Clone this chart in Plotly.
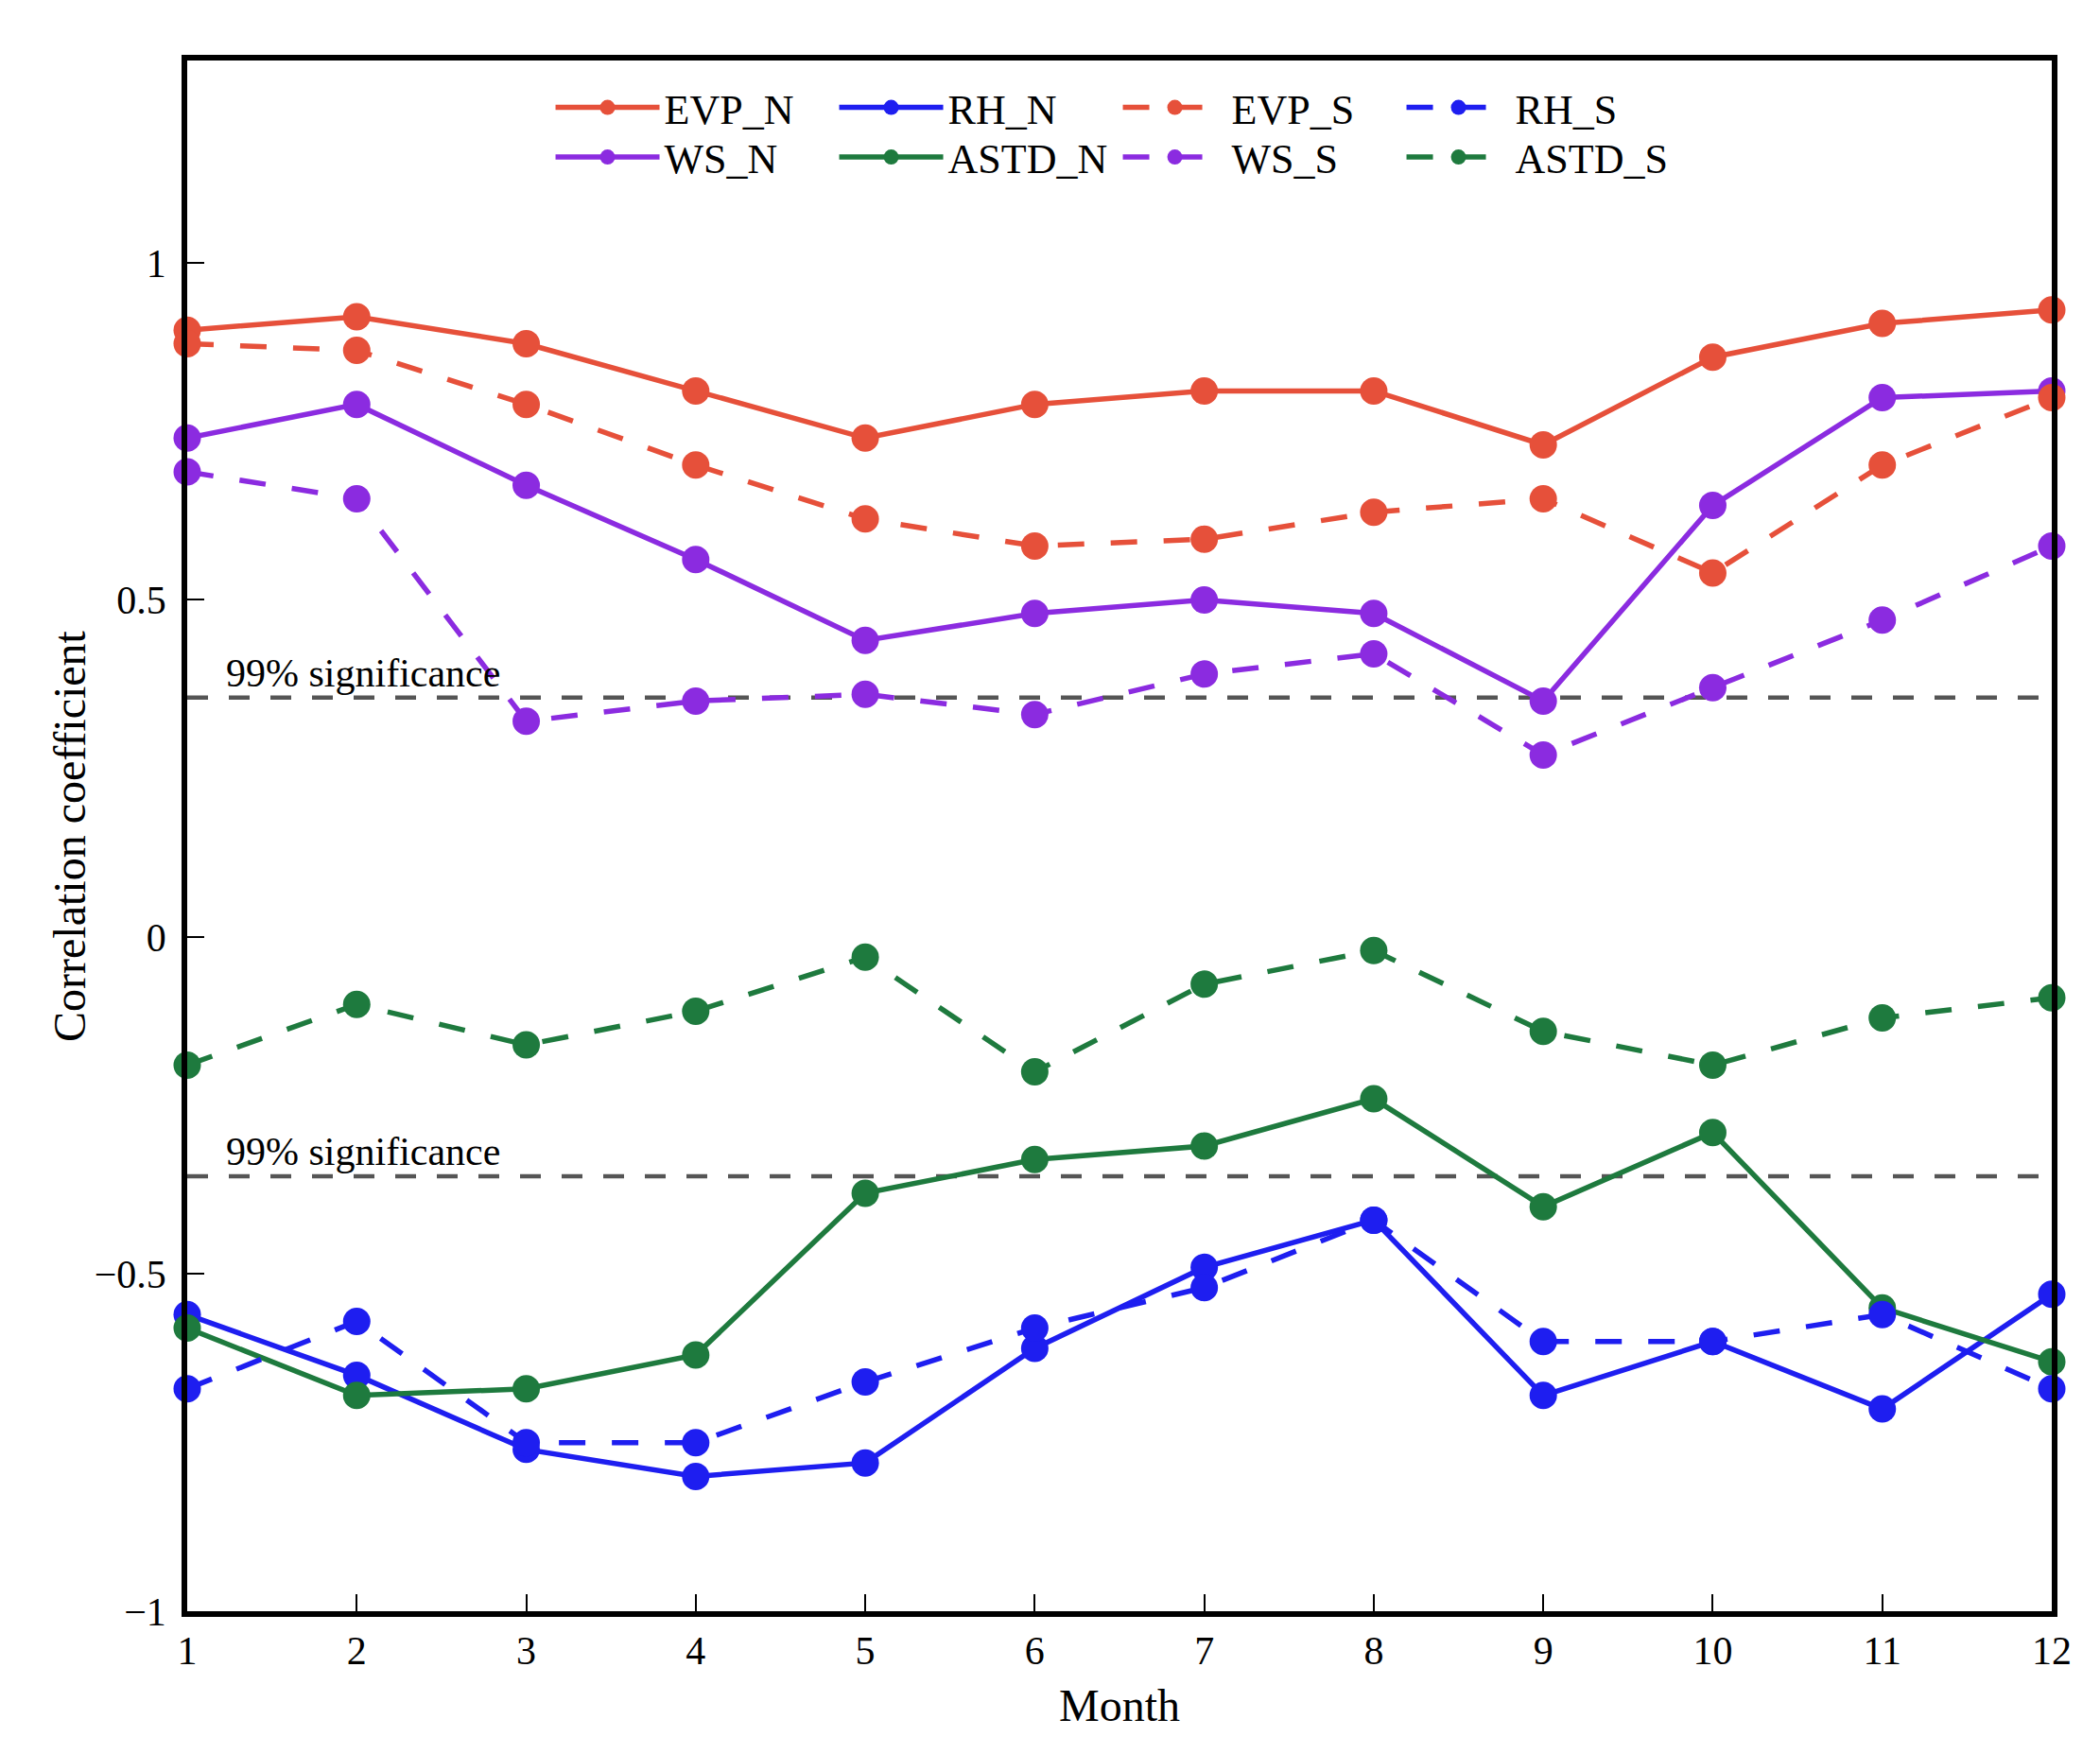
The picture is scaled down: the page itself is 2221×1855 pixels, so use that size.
import plotly.graph_objects as go

# monthly correlation coefficients, north (_N) and south (_S)

months = list(range(1, 13))

evp_n = [0.90, 0.92, 0.88, 0.81, 0.74, 0.79, 0.81, 0.81, 0.73, 0.86, 0.91, 0.93]
ws_n = [0.74, 0.79, 0.67, 0.56, 0.44, 0.48, 0.50, 0.48, 0.35, 0.64, 0.80, 0.81]
rh_n = [-0.56, -0.65, -0.76, -0.80, -0.78, -0.61, -0.49, -0.42, -0.68, -0.60, -0.70, -0.53]
astd_n = [-0.58, -0.68, -0.67, -0.62, -0.38, -0.33, -0.31, -0.24, -0.40, -0.29, -0.55, -0.63]

evp_s = [0.88, 0.87, 0.79, 0.70, 0.62, 0.58, 0.59, 0.63, 0.65, 0.54, 0.70, 0.80]
ws_s = [0.69, 0.65, 0.32, 0.35, 0.36, 0.33, 0.39, 0.42, 0.27, 0.37, 0.47, 0.58]
rh_s = [-0.67, -0.57, -0.75, -0.75, -0.66, -0.58, -0.52, -0.42, -0.60, -0.60, -0.56, -0.67]
astd_s = [-0.19, -0.10, -0.16, -0.11, -0.03, -0.20, -0.07, -0.02, -0.14, -0.19, -0.12, -0.09]

sig_level = 0.355
sig_label = '99% significance'

red = '#E6503A'
blue = '#1E1EF0'
purple = '#8B2BE0'
green = '#1E7A3E'

font = 'Liberation Serif, Times New Roman, serif'
dashed = '28px,28px'

# drawing order; legend row ('legend' top row, 'legend2' bottom row) and rank in that row
series = [
    ('EVP_N', evp_n, red, 'solid', 'legend', 1),
    ('WS_N', ws_n, purple, 'solid', 'legend2', 1),
    ('RH_N', rh_n, blue, 'solid', 'legend', 2),
    ('ASTD_N', astd_n, green, 'solid', 'legend2', 2),
    ('EVP_S', evp_s, red, dashed, 'legend', 3),
    ('WS_S', ws_s, purple, dashed, 'legend2', 3),
    ('RH_S', rh_s, blue, dashed, 'legend', 4),
    ('ASTD_S', astd_s, green, dashed, 'legend2', 4),
]

fig = go.Figure()

for name, vals, color, dash, leg, rank in series:

    fig.add_trace(
        go.Scatter(
            x = months,
            y = vals,
            name = name,
            mode = 'lines+markers',
            line = dict(color = color, width = 5.5, dash = dash),
            marker = dict(color = color, size = 29),
            legend = leg,
            legendrank = rank,
            cliponaxis = False,
        )
    )

# significance thresholds
for level in (sig_level, -sig_level):

    fig.add_shape(
        type = 'line',
        xref = 'paper', x0 = 0, x1 = 1,
        yref = 'y', y0 = level, y1 = level,
        line = dict(color = '#555555', width = 4.5, dash = '22px,22px'),
        layer = 'below',
    )

    fig.add_annotation(
        x = 1.215, y = level,
        xref = 'x', yref = 'y',
        text = sig_label,
        showarrow = False,
        xanchor = 'left', yanchor = 'bottom',
        yshift = 1,
        font = dict(family = font, size = 42, color = 'black'),
    )

# y title placed by hand, the axis title sits too far out
fig.add_annotation(
    x = -0.0634, y = 0.5,
    xref = 'paper', yref = 'paper',
    text = 'Correlation coefficient',
    textangle = -90,
    showarrow = False,
    xanchor = 'center', yanchor = 'middle',
    font = dict(family = font, size = 48, color = 'black'),
)

axis_common = dict(
    showgrid = False,
    zeroline = False,
    showline = True,
    mirror = True,
    linecolor = 'black',
    linewidth = 5.5,
    ticks = 'inside',
    ticklen = 18,
    tickwidth = 1.5,
    tickcolor = 'black',
    tickfont = dict(family = font, size = 42, color = 'black'),
)

fig.update_xaxes(
    axis_common,
    range = [1, 12],
    tick0 = 1,
    dtick = 1,
    title = dict(text = 'Month', font = dict(family = font, size = 48, color = 'black'), standoff = 20),
)

fig.update_yaxes(
    axis_common,
    range = [-1, 1.3],
    tick0 = 0,
    dtick = 0.5,
    ticklabelstandoff = 8,
)

legend_common = dict(
    orientation = 'h',
    x = 0.195,
    xanchor = 'left',
    yanchor = 'middle',
    itemwidth = 110,
    entrywidth = 175,
    bgcolor = 'rgba(0,0,0,0)',
    font = dict(family = font, size = 44, color = 'black'),
)

fig.update_layout(
    width = 2221,
    height = 1855,
    margin = dict(l = 190, r = 59, t = 56, b = 159),
    paper_bgcolor = 'white',
    plot_bgcolor = 'white',
    font = dict(family = font, color = 'black'),
    legend = dict(legend_common, y = 0.9695),
    legend2 = dict(legend_common, y = 0.9375),
)

fig.write_html('out.html')
